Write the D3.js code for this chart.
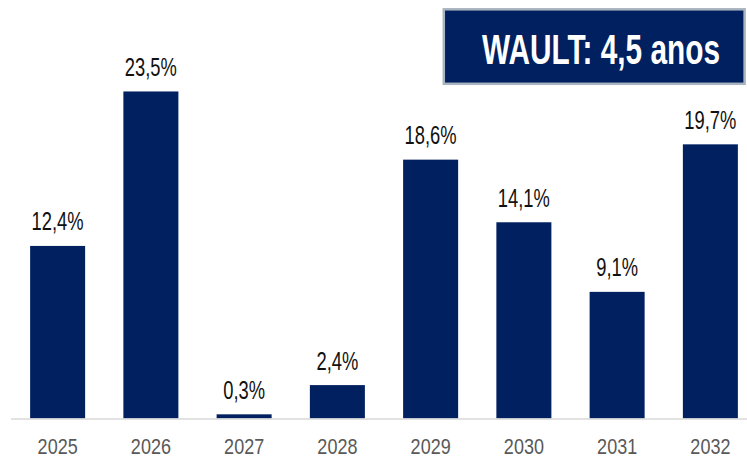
<!DOCTYPE html>
<html>
<head>
<meta charset="utf-8">
<script src="https://cdn.jsdelivr.net/npm/d3@7"></script>
<style>
  html, body { margin: 0; padding: 0; background: #fff; }
  svg { display: block; }
</style>
</head>
<body>
<script>
const categories = ["2025", "2026", "2027", "2028", "2029", "2030", "2031", "2032"];
const values = [12.4, 23.5, 0.3, 2.4, 18.6, 14.1, 9.1, 19.7];
const valueLabels = ["12,4%", "23,5%", "0,3%", "2,4%", "18,6%", "14,1%", "9,1%", "19,7%"];
const boxText = "WAULT: 4,5 anos";

const W = 747, H = 458;
const navy = "#002060";

const svg = d3.select("body").append("svg")
  .attr("width", W).attr("height", H);

const x = d3.scaleBand()
  .domain(categories)
  .range([11, 757])
  .paddingInner(0.41)
  .paddingOuter(0.205);

const y = d3.scaleLinear()
  .domain([0, 30])
  .range([418.5, 1]);

// bars
svg.append("g").selectAll("rect")
  .data(values)
  .join("rect")
  .attr("x", (d, i) => x(categories[i]))
  .attr("width", x.bandwidth())
  .attr("y", d => y(d))
  .attr("height", d => y(0) - y(d))
  .attr("fill", navy);

// baseline
svg.append("line")
  .attr("x1", 11).attr("x2", W)
  .attr("y1", y(0) + 0.5).attr("y2", y(0) + 0.5)
  .attr("stroke", "#d9d9d9").attr("stroke-width", 1.5);

// value labels
svg.append("g").selectAll("text")
  .data(values)
  .join("text")
  .attr("transform", (d, i) => `translate(${x(categories[i]) + x.bandwidth() / 2},${y(d) - 15.5}) scale(0.72,1)`)
  .attr("text-anchor", "middle")
  .attr("font-family", "Liberation Sans, Arial, sans-serif")
  .attr("font-size", 25.5)
  .attr("fill", "#111")
  .text((d, i) => valueLabels[i]);

// x axis labels
const xAxis = d3.axisBottom(x).tickSize(0).tickPadding(0);
const gx = svg.append("g").attr("transform", `translate(0,${y(0)})`).call(xAxis);
gx.select(".domain").remove();
gx.selectAll(".tick text")
  .attr("y", 0).attr("dy", 0)
  .attr("transform", "translate(0,35) scale(0.8,1)")
  .attr("font-family", "Liberation Sans, Arial, sans-serif")
  .attr("font-size", 22.5)
  .attr("fill", "#595959");

// WAULT box
const box = svg.append("g");
box.append("rect")
  .attr("x", 443.8).attr("y", 9.3)
  .attr("width", 300.8).attr("height", 74.5)
  .attr("fill", navy)
  .attr("stroke", "#aab4c0")
  .attr("stroke-width", 2.5);
box.append("text")
  .attr("transform", "translate(601,63.5) scale(0.71,1)")
  .attr("text-anchor", "middle")
  .attr("font-family", "Liberation Sans, Arial, sans-serif")
  .attr("font-weight", "bold")
  .attr("font-size", 42)
  .attr("fill", "#fff")
  .text(boxText);
</script>
</body>
</html>
